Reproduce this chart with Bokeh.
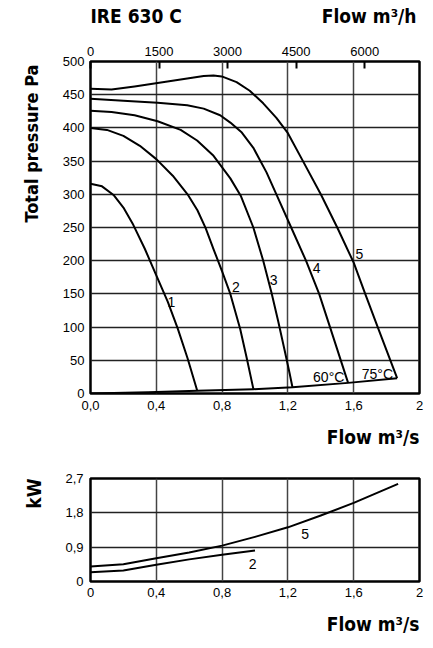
import numpy as np
from bokeh.plotting import figure
from bokeh.layouts import column
from bokeh.models import Range1d, LinearAxis, FixedTicker, Label, Title
from bokeh.embed import file_html
from bokeh.resources import INLINE

# ---------------- data ----------------
# pressure curves (flow m3/s, total pressure Pa)
c1_x = [0.0, 0.07, 0.14, 0.2, 0.26, 0.33, 0.4, 0.47, 0.53, 0.59, 0.648]
c1_y = [316, 312, 299, 280, 254, 218, 178, 138, 98, 53, 5]
c2_x = [0.0, 0.1, 0.2, 0.3, 0.4, 0.5, 0.59, 0.65, 0.70, 0.75, 0.80, 0.85, 0.91, 0.95, 0.99]
c2_y = [400, 397, 388, 373, 353, 328, 300, 276, 249, 216, 184, 150, 97, 53, 7]
c3_x = [0.0, 0.128, 0.268, 0.408, 0.548, 0.648, 0.748, 0.85, 0.915, 0.99, 1.05, 1.10, 1.14, 1.18, 1.21, 1.228]
c3_y = [426, 424, 419, 410, 397, 381, 358, 324, 297, 250, 200, 152, 110, 65, 31, 9]
c4_x = [0.0, 0.2, 0.408, 0.588, 0.688, 0.788, 0.85, 0.92, 0.99, 1.07, 1.13, 1.22, 1.31, 1.39, 1.456, 1.524, 1.566]
c4_y = [444, 441, 438, 434, 429, 419, 408, 393, 370, 333, 300, 250, 200, 150, 100, 48, 16]
c5_x = [0.0, 0.128, 0.268, 0.408, 0.548, 0.688, 0.748, 0.798, 0.888, 0.968, 1.05, 1.13, 1.2, 1.285, 1.40, 1.50, 1.60, 1.67, 1.746, 1.864]
c5_y = [459, 458, 462.5, 467.5, 473, 478, 479, 477.5, 469, 456, 437, 415, 392, 353, 300, 250, 197, 150, 100, 23]
sys_x = [0.0, 0.35, 0.648, 0.99, 1.228, 1.566, 1.864]
sys_y = [0, 2, 4, 6.5, 9.5, 16, 23]

curve_label_x = [0.492, 0.884, 1.114, 1.374, 1.634, 1.448, 1.744]
curve_label_y = [138, 160, 171.5, 189, 210.5, 24.5, 30]
curve_label_t = ["1", "2", "3", "4", "5", "60°C", "75°C"]

x_ticks = [0, 0.4, 0.8, 1.2, 1.6, 2]
x_tick_labels = ["0,0", "0,4", "0,8", "1,2", "1,6", "2"]
y_ticks = list(range(0, 501, 50))
top_ticks = [0, 1500, 3000, 4500, 6000]

# power curves (flow m3/s, kW)
p5_x = [0.0, 0.2, 0.4, 0.6, 0.8, 1.0, 1.2, 1.4, 1.6, 1.87]
p5_y = [0.39, 0.45, 0.61, 0.76, 0.94, 1.17, 1.42, 1.73, 2.06, 2.56]
p2_x = [0.0, 0.2, 0.4, 0.6, 0.8, 1.0]
p2_y = [0.24, 0.29, 0.44, 0.58, 0.70, 0.81]
power_label_x = [1.305, 0.985]
power_label_y = [1.25, 0.45]
power_label_t = ["5", "2"]
kw_ticks = [0, 0.9, 1.8, 2.7]
kw_tick_labels = ["0", "0,9", "1,8", "2,7"]
x2_tick_labels = ["0", "0,4", "0,8", "1,2", "1,6", "2"]

BOLD = "DejaVu Sans Condensed"
TICKF = "Liberation Sans"


def style_axis(ax, standoff):
    ax.axis_line_color = None
    ax.major_tick_line_color = None
    ax.minor_tick_line_color = None
    ax.major_tick_out = 0
    ax.major_tick_in = 0
    ax.major_label_text_font = TICKF
    ax.major_label_text_font_size = "13px"
    ax.major_label_text_color = "black"
    ax.major_label_standoff = standoff


def side_title(fig, side, text, offset, standoff, size="19px"):
    t = Title(text=text, align="right", offset=offset, standoff=standoff,
              text_font=BOLD, text_font_style="bold", text_font_size=size,
              text_color="black")
    fig.add_layout(t, side)
    return t


# ---------------- header (its frame is aligned with the plot frames: px 88..421) ----------------
h = figure(width=433, height=32, output_backend="svg", toolbar_location=None,
           x_range=Range1d(88, 421), y_range=Range1d(0, 32),
           x_axis_type=None, y_axis_type=None,
           min_border_left=0, min_border_right=0, min_border_top=0, min_border_bottom=0)
h.outline_line_color = None
h.grid.visible = False
h.add_layout(Label(x=88, y=17, text="IRE 630 C", text_font=BOLD, text_font_style="bold",
                   text_font_size="19px", text_align="left", text_baseline="middle",
                   text_color="black"))
h.add_layout(Label(x=418, y=17, text="Flow m³/h", text_font=BOLD, text_font_style="bold",
                   text_font_size="19px", text_align="right", text_baseline="middle",
                   text_color="black"))

# ---------------- main figure ----------------
p = figure(width=433, height=428, output_backend="svg", toolbar_location=None,
           x_range=Range1d(0, 2), y_range=Range1d(0, 500),
           min_border_left=88, min_border_right=12, min_border_top=29, min_border_bottom=67)
p.outline_line_color = "black"
p.outline_line_width = 2.5

p.xaxis.ticker = FixedTicker(ticks=x_ticks)
p.xaxis.major_label_overrides = {t: l for t, l in zip(x_ticks, x_tick_labels)}
p.yaxis.ticker = FixedTicker(ticks=y_ticks)
style_axis(p.xaxis[0], 7)
style_axis(p.yaxis[0], 6)
side_title(p, "below", "Flow m³/s", 0, 22)
side_title(p, "left", "Total pressure Pa", 3, 36, size="18px")

p.xgrid.ticker = FixedTicker(ticks=[0.4, 0.8, 1.2, 1.6])
p.ygrid.ticker = FixedTicker(ticks=y_ticks[1:-1])
p.xgrid.grid_line_color = "#444444"
p.ygrid.grid_line_color = "#222222"
p.xgrid.grid_line_width = 1.5
p.ygrid.grid_line_width = 1.5

p.extra_x_ranges = {"m3h": Range1d(0, 7200)}
top = LinearAxis(x_range_name="m3h", ticker=FixedTicker(ticks=top_ticks))
top.axis_line_color = None
top.major_tick_in = 7
top.major_tick_out = 0
top.major_tick_line_width = 2
top.minor_tick_line_color = None
top.major_label_text_font = TICKF
top.major_label_text_font_size = "13px"
top.major_label_text_color = "black"
top.major_label_standoff = 6
p.add_layout(top, "above")

for xs, ys in [(c1_x, c1_y), (c2_x, c2_y), (c3_x, c3_y), (c4_x, c4_y), (c5_x, c5_y), (sys_x, sys_y)]:
    p.line(xs, ys, line_color="black", line_width=2, line_join="round")

for x, y, t in zip(curve_label_x, curve_label_y, curve_label_t):
    p.add_layout(Label(x=x, y=y, text=t, text_font=TICKF, text_font_size="14px",
                       text_align="center", text_baseline="middle", text_color="black"))

# ---------------- power figure ----------------
q = figure(width=433, height=186, output_backend="svg", toolbar_location=None,
           x_range=Range1d(0, 2), y_range=Range1d(0, 2.7),
           min_border_left=86, min_border_right=14, min_border_top=18, min_border_bottom=65)
q.outline_line_color = "black"
q.outline_line_width = 2.5
q.xaxis.ticker = FixedTicker(ticks=x_ticks)
q.xaxis.major_label_overrides = {t: l for t, l in zip(x_ticks, x2_tick_labels)}
q.yaxis.ticker = FixedTicker(ticks=kw_ticks)
q.yaxis.major_label_overrides = {t: l for t, l in zip(kw_ticks, kw_tick_labels)}
style_axis(q.xaxis[0], 6)
style_axis(q.yaxis[0], 7)
side_title(q, "below", "Flow m³/s", 0, 22)
side_title(q, "left", "kW", 0, 36)
q.xgrid.ticker = FixedTicker(ticks=[0.4, 0.8, 1.2, 1.6])
q.ygrid.ticker = FixedTicker(ticks=[0.9, 1.8])
q.xgrid.grid_line_color = "#444444"
q.ygrid.grid_line_color = "#222222"
q.xgrid.grid_line_width = 1.5
q.ygrid.grid_line_width = 1.5

for xs, ys in [(p5_x, p5_y), (p2_x, p2_y)]:
    q.line(xs, ys, line_color="black", line_width=2, line_join="round")
for x, y, t in zip(power_label_x, power_label_y, power_label_t):
    q.add_layout(Label(x=x, y=y, text=t, text_font=TICKF, text_font_size="14px",
                       text_align="center", text_baseline="middle", text_color="black"))

layout = column(h, p, q, spacing=0)
open("out.html", "w").write(file_html(layout, INLINE))
